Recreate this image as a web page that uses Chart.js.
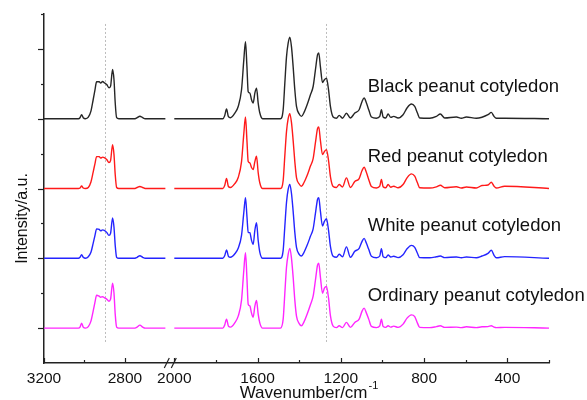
<!DOCTYPE html>
<html lang="en">
<head>
  <meta charset="UTF-8">
  <title>Raman spectra of peanut cotyledons</title>
  <script src="https://cdn.jsdelivr.net/npm/chart.js"></script>
  <style>
    html, body {
      margin: 0;
      padding: 0;
      background: #fff;
    }
    #wrap {
      width: 587px;
      height: 400px;
    }
  </style>
</head>
<body>

<div id="wrap"><canvas id="grafico"></canvas></div>

<script>
  // wavenumbers (cm-1): 3200-2600 segment, then 2000-200 segment
  const wavenumber = [
    3200, 3030, 3022, 3014, 3006, 2995, 2981, 2968, 2957, 2948, 2940, 2927, 2920, 2910, 2902,
    2890, 2879, 2871, 2861, 2854, 2848, 2841, 2830, 2750, 2740, 2726, 2712, 2700, 2600,
    2000, 1767, 1758, 1749, 1740, 1730, 1709, 1693, 1677, 1666,
    1658, 1651, 1645, 1637, 1629, 1621, 1613, 1605, 1597, 1589,
    1576, 1490, 1477, 1469, 1461, 1453, 1445, 1437, 1429, 1421,
    1413, 1400, 1389, 1378, 1362, 1346, 1333, 1322, 1312, 1306,
    1298, 1288, 1279, 1269, 1259, 1250, 1237, 1221, 1208, 1192,
    1173, 1154, 1133, 1112, 1098, 1088, 1077, 1066, 1053, 1029,
    1013, 1005, 997, 984, 973, 960, 946, 925, 901, 882,
    861, 845, 832, 821, 773, 741, 722, 701, 645, 621,
    597, 549, 522, 493, 477, 464, 453, 413, 200
  ];

  const black = [
    0, 0, 1, 4, 1, 0, 1.5, 7.6, 19, 29, 37, 37, 35.7, 37.3, 36,
    34.3, 31, 32.7, 49.3, 39, 16, 1, 0, 0, 1, 2.5, 1, 0, 0,
    0, 0, 3, 9.7, 2, 1, 5.7, 12.3, 29, 59,
    77.3, 52, 27, 25.7, 19, 15.7, 25.7, 30.7, 15.7, 5.7,
    0, 0, 9, 35.7, 62, 75.7, 81.7, 72, 52, 29,
    12.3, 4.7, 2.3, 5.7, 14, 24, 32.3, 49, 64, 66,
    52, 36.3, 39, 40.7, 29, 12.3, 1.7, 0.5, 3.3, 0.5,
    5.5, 0.7, 5.7, 9, 17.3, 20.7, 15.7, 9, 1.7, 0.5,
    2.3, 9, 1.7, 0.7, 4.7, 1.3, 2.3, 0.7, 4, 10.7,
    14.7, 12.3, 5.7, 0.7, 0.5, 2.3, 4.7, 0.7, 1.7, 0.5,
    1.7, 0.5, 1.5, 4, 6.3, 2.3, 0.5, 0.5, 0
  ];

  const red = [
    0, 0, 0.5, 2.5, 0.5, 0, 1, 6.5, 16.5, 25, 32, 32, 30.5, 31.5, 31,
    29, 26, 28, 44, 34, 14, 1, 0, 0, 1, 2, 1, 0, 0,
    0, 0, 3, 10, 2, 1, 5, 11, 27, 55,
    71.7, 48, 27, 25.7, 21, 19, 27, 32.3, 16, 5.5,
    0, 0, 8, 33, 57, 70, 75, 66, 48, 27,
    11, 4.5, 2.3, 5.5, 13, 22.5, 30, 46, 60, 61.7,
    48, 34, 37, 39, 28, 12, 2, 1, 4, 1.5,
    10.7, 1, 7, 10, 18, 21.3, 16, 9, 2, 0.5,
    2.3, 9, 1.7, 0.7, 4, 1.3, 2.3, 0.7, 4, 10.7,
    14.7, 12.3, 5.7, 0.7, 0.5, 1.7, 3.3, 0.7, 1.7, 0.5,
    1.5, 0.5, 3, 3.5, 6.3, 2.3, 0.5, 2.3, 0
  ];

  const white = [
    0, 0, 1, 3.5, 1, 0, 1.5, 6, 15, 23, 29.5, 29, 27.5, 28.5, 28,
    26, 23, 25, 40.5, 31, 13, 1, 0, 0, 1, 2.5, 1, 0, 0,
    0, 0, 2.5, 8.3, 2, 1, 4.5, 10, 23, 46,
    60.7, 42, 26, 25.7, 18, 14, 28, 35.7, 18, 6,
    0, 0, 8, 32, 56, 69, 74, 65, 47, 26,
    11, 4, 2.3, 5.5, 13, 22, 29.5, 45, 59, 60.7,
    47, 32.3, 37, 39.7, 28, 12, 2, 1, 4, 1.5,
    11.5, 1, 7, 10, 17, 20, 15, 9, 2, 0.5,
    2.3, 9.7, 1.7, 0.7, 3.3, 1.3, 2, 0.7, 3.5, 9.5,
    13, 11, 5, 0.7, 0.5, 1.5, 2.3, 0.7, 1.3, 0.5,
    1.3, 0.5, 2.3, 5, 8, 3, 0.5, 1.7, 0
  ];

  const ordinary = [
    0, 0, 1, 5, 1, 0, 1.5, 7, 17, 26, 33, 32, 31, 31.5, 30.5,
    29, 27, 29, 45, 35, 14, 1, 0, 0, 1, 3, 1, 0, 0,
    0, 0, 3, 9, 2, 1, 5.5, 12, 28, 58,
    75.7, 50, 24, 22.3, 15, 11, 22, 27.7, 14, 5,
    0, 0, 9, 35, 61, 74, 80, 70, 51, 28,
    12, 4.5, 2.3, 5.7, 14, 23.5, 32, 48, 63, 65,
    51, 35, 40, 41.7, 30, 12.5, 2, 0.5, 2.3, 0.5,
    5.7, 0.7, 5.7, 9, 17, 20, 15, 9, 1.7, 0.5,
    2.3, 9, 1.7, 0.7, 2.3, 1, 2, 0.7, 4, 10,
    13.3, 11.5, 5, 0.7, 0.5, 1.5, 2.3, 0.7, 1, 0.5,
    1.3, 0.5, 1.3, 1.5, 2.3, 1, 0.5, 0.7, 0
  ];

  const sampleNames = ["Black peanut cotyledon", "Red peanut cotyledon", "White peanut cotyledon", "Ordinary peanut cotyledon"];
  const sampleColors = ["#262626", "#ff1a1a", "#2424ff", "#ff26ff"];
  const baselineOffsets = [245, 175, 105, 35];

  const tickWavenumbers = [3200, 3000, 2800, 2000, 1800, 1600, 1400, 1200, 1000, 800, 600, 400, 200];
  const tickLabels = ["3200", "", "2800", "2000", "", "1600", "", "1200", "", "800", "", "400", ""];
  const yTickValues = [35, 70, 105, 140, 175, 210, 245, 280, 315, 350];
  const markerLines = [2900, 1270];

  // broken axis: 3200-2556 uses the first part of the width, 2000-200 the rest
  const LEFT_FRAC = 0.258;
  function toAxis(w) {
    if (w > 2300) return (3200 - w) / 644 * LEFT_FRAC;
    return LEFT_FRAC + (2000 - w) / 1800 * (1 - LEFT_FRAC);
  }

  const spectra = [black, red, white, ordinary];
  const datasets = spectra.map((vals, i) => {
    const pts = [];
    wavenumber.forEach((w, j) => {
      if (j > 0 && wavenumber[j - 1] > 2300 && w <= 2300) pts.push({ x: toAxis(2300), y: null });
      pts.push({ x: toAxis(w), y: baselineOffsets[i] + vals[j] });
    });
    return {
      label: sampleNames[i],
      data: pts,
      borderColor: sampleColors[i],
      borderWidth: 1.4,
      pointRadius: 0,
      cubicInterpolationMode: "monotone",
      spanGaps: false,
      fill: false
    };
  });

  const FONT = '"Liberation Sans", Arial, sans-serif';

  const decoracion = {
    id: "decoracion",
    beforeDatasetsDraw(chart) {
      const { ctx, scales: { x, y } } = chart;
      ctx.save();
      ctx.strokeStyle = "#bdbdbd";
      ctx.lineWidth = 1;
      ctx.setLineDash([2, 2]);
      markerLines.forEach(w => {
        const px = Math.round(x.getPixelForValue(toAxis(w))) + 0.5;
        ctx.beginPath();
        ctx.moveTo(px, y.getPixelForValue(340));
        ctx.lineTo(px, y.getPixelForValue(20));
        ctx.stroke();
      });
      ctx.restore();
    },
    afterDraw(chart) {
      const { ctx, chartArea, scales: { x, y } } = chart;
      ctx.save();
      ctx.strokeStyle = "#222";
      ctx.lineWidth = 1.2;
      const seg = (x1, y1, x2, y2) => {
        ctx.beginPath();
        ctx.moveTo(x1, y1);
        ctx.lineTo(x2, y2);
        ctx.stroke();
      };

      // x ticks point up into the plot
      tickWavenumbers.forEach((w, i) => {
        const px = Math.round(x.getPixelForValue(toAxis(w))) + 0.5;
        const len = tickLabels[i] ? 5 : 3;
        seg(px, chartArea.bottom, px, chartArea.bottom - len);
      });

      // y ticks point outwards, long ones on the spectrum baselines
      yTickValues.forEach((v, i) => {
        const py = Math.round(y.getPixelForValue(v)) + 0.5;
        const len = i % 2 === 0 ? 6 : 3;
        seg(chartArea.left, py, chartArea.left - len, py);
      });

      // axis break "//"
      const bx = x.getPixelForValue(toAxis(2000));
      const by = chartArea.bottom;
      seg(bx - 10, by + 5, bx - 5, by - 5);
      seg(bx - 3, by + 5, bx + 2, by - 5);

      // sample names
      ctx.fillStyle = "#111";
      ctx.font = "18.5px " + FONT;
      ctx.textAlign = "left";
      ctx.textBaseline = "middle";
      sampleNames.forEach((name, i) => {
        ctx.fillText(name, x.getPixelForValue(toAxis(1071)), y.getPixelForValue(baselineOffsets[i] + 32));
      });

      // x title with superscript
      const cx = (chartArea.left + chartArea.right) / 2 + 12;
      ctx.textBaseline = "alphabetic";
      const main = "Wavenumber/cm";
      ctx.font = "11px " + FONT;
      const supW = ctx.measureText("-1").width;
      ctx.font = "17px " + FONT;
      const mainW = ctx.measureText(main).width;
      const start = cx - (mainW + supW) / 2;
      ctx.fillText(main, start, 398);
      ctx.font = "11px " + FONT;
      ctx.fillText("-1", start + mainW + 1, 389);

      // y title
      ctx.translate(22.5, (chartArea.top + chartArea.bottom) / 2 + 30);
      ctx.rotate(-Math.PI / 2);
      ctx.font = "16px " + FONT;
      ctx.textAlign = "center";
      ctx.textBaseline = "middle";
      ctx.fillText("Intensity/a.u.", 0, 0);
      ctx.restore();
    }
  };

  new Chart(document.getElementById("grafico"), {
    type: "line",
    data: { datasets },
    plugins: [decoracion],
    options: {
      responsive: true,
      maintainAspectRatio: false,
      animation: false,
      layout: { padding: { left: 0, top: 14, right: 38, bottom: 0 } },
      plugins: {
        legend: { display: false },
        tooltip: { enabled: false }
      },
      scales: {
        x: {
          type: "linear",
          min: 0,
          max: 1,
          grid: { display: false, drawTicks: false },
          border: { color: "#222", width: 1.5 },
          afterBuildTicks: s => { s.ticks = tickWavenumbers.map(w => ({ value: toAxis(w) })); },
          afterFit: s => { s.height = 37; },
          ticks: {
            autoSkip: false,
            maxRotation: 0,
            padding: 6,
            color: "#111",
            font: { family: FONT, size: 15.5 },
            callback: (v, i) => tickLabels[i]
          }
        },
        y: {
          min: 0,
          max: 350,
          grid: { display: false, drawTicks: false },
          border: { color: "#222", width: 1.5 },
          ticks: { display: false, stepSize: 35 },
          afterFit: s => { s.width = 44; }
        }
      }
    }
  });
</script>
</body>
</html>
